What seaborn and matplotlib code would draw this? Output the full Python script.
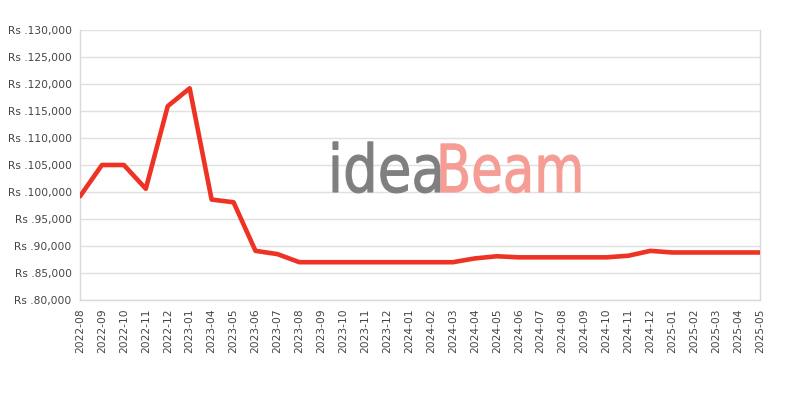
import matplotlib
matplotlib.use("Agg")
import matplotlib.pyplot as plt
import seaborn as sns
import pandas as pd
from matplotlib.textpath import TextPath
from matplotlib.patches import PathPatch
from matplotlib.font_manager import FontProperties
from matplotlib.transforms import Affine2D
from matplotlib.ticker import FuncFormatter

months = ["2022-08", "2022-09", "2022-10", "2022-11", "2022-12", "2023-01",
          "2023-04", "2023-05", "2023-06", "2023-07", "2023-08", "2023-09",
          "2023-10", "2023-11", "2023-12", "2024-01", "2024-02", "2024-03",
          "2024-04", "2024-05", "2024-06", "2024-07", "2024-08", "2024-09",
          "2024-10", "2024-11", "2024-12", "2025-01", "2025-02", "2025-03",
          "2025-04", "2025-05"]
prices = [99200, 105000, 105000, 100600, 115900, 119200,
          98600, 98100, 89100, 88500, 87000, 87000,
          87000, 87000, 87000, 87000, 87000, 87000,
          87700, 88100, 87900, 87900, 87900, 87900,
          87900, 88200, 89100, 88800, 88800, 88800,
          88800, 88800]
y_ticks = [80000, 85000, 90000, 95000, 100000, 105000, 110000, 115000,
           120000, 125000, 130000]

df = pd.DataFrame({"month": months, "price": prices})

sns.set_theme(style="white")
plt.rcParams["font.family"] = ["DejaVu Sans"]

fig = plt.figure(figsize=(8, 4), dpi=100)
ax = fig.add_axes([0.1, 0.25, 0.85, 0.675])

# watermark
def wm(text, x_px, width_px, color):
    tp = TextPath((0, 0), text, size=1,
                  prop=FontProperties(family="DejaVu Sans"))
    ext = tp.get_extents()
    sx = width_px / ext.width
    sy = 66.0
    tr = (Affine2D().translate(-ext.x0, 0).scale(sx / 800, sy / 400)
          .translate(x_px / 800, 208 / 400) + fig.transFigure)
    p = PathPatch(tp, transform=tr, facecolor=color, edgecolor=color,
                  linewidth=0.8, zorder=1.5, clip_on=False)
    ax.add_artist(p)

wm("idea", 333, 107, "#7f7f7f")
wm("Beam", 441, 139, "#f59c94")

sns.lineplot(data=df, x="month", y="price", ax=ax, color="#ee3224",
             linewidth=3.3, sort=False, zorder=3)

ax.set_xlim(0, len(months) - 1)
ax.set_ylim(80000, 130000)
ax.set_yticks(y_ticks)
ax.yaxis.set_major_formatter(FuncFormatter(lambda v, p: "Rs ." + f"{int(v):,}"))
ax.set_xticks(range(len(months)))
ax.set_xticklabels(months, rotation=90)
ax.set_xlabel("")
ax.set_ylabel("")
ax.grid(axis="y", color="#e0e0e0", linewidth=1)
ax.set_axisbelow(True)
for s in ax.spines.values():
    s.set_color("#d9d9d9")
    s.set_linewidth(1)
ax.spines["top"].set_visible(False)
ax.tick_params(axis="both", length=0, labelsize=7.7, colors="#444444")
ax.tick_params(axis="y", pad=6)
ax.tick_params(axis="x", pad=6)

fig.savefig("out.png", dpi=100)
